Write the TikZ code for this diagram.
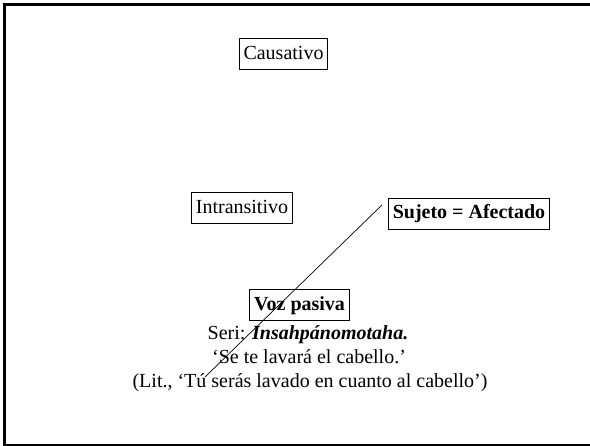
\documentclass[tikz,border=0pt]{standalone}
\usepackage{fontspec}
\setmainfont{Liberation Serif}
\begin{document}
\begin{tikzpicture}[x=1pt,y=-1pt,
  lbl/.style={draw,line width=1pt,inner xsep=4.5pt,inner ysep=5.5pt,font=\fontsize{20}{24}\selectfont,text height=15pt,text depth=5pt},
  txt/.style={inner sep=0pt,font=\fontsize{20}{24}\selectfont,text height=14pt,text depth=4pt},
  conn/.style={line width=0.7pt}]
\useasboundingbox (0,0) rectangle (590,446);
\clip (0,0) rectangle (590,446);
\draw[line width=3.2pt] (630,4.5) -- (4.5,4.5) -- (4.5,445.2) -- (630,445.2);
\node[lbl] (caus) at (283.5,54.5) {Causativo};
\node[lbl] (intr) at (242,208.5) {Intransitivo};
\node[lbl] (suj) at (469,214) {\textbf{Sujeto = Afectado}};
\node[lbl] (voz) at (299.5,305.5) {\textbf{Voz pasiva}};
\node[txt] (seri) at (308,335) {Seri: \textbf{\textit{Insahpánomotaha.}}};
\node[txt] (se) at (309,359) {‘Se te lavará el cabello.’};
\node[txt] (lit) at (310,383) {(Lit., ‘Tú serás lavado en cuanto al cabello’)};
\coordinate (a) at (382,205);
\coordinate (b) at (205,377);
\draw[conn] (a) -- (b);
\end{tikzpicture}
\end{document}
